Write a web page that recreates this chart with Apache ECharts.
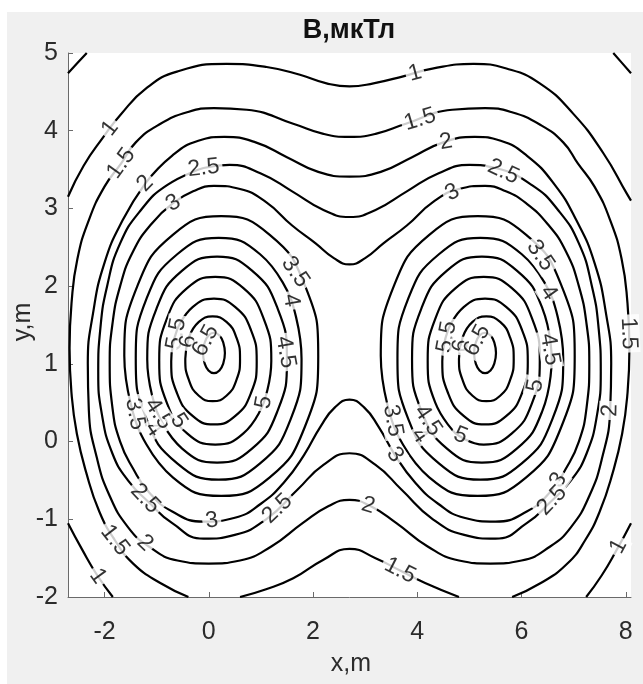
<!DOCTYPE html>
<html><head><meta charset="utf-8">
<script src="https://cdn.jsdelivr.net/npm/echarts@6/dist/echarts.min.js"></script>
<style>
html,body{margin:0;padding:0;background:#fff;overflow:hidden;}
#bg{position:absolute;left:7px;top:12px;width:636px;height:672px;background:#f0f0f0;}
#c{position:absolute;left:0;top:0;width:643px;height:684px;}
</style></head><body><div id="bg"></div><div id="c"></div>
<script>
// ---- tick labels ----
const xTicks = [-2, 0, 2, 4, 6, 8];
const yTicks = [-2, -1, 0, 1, 2, 3, 4, 5];
const titleText = 'B,мкТл';
const xName = 'x,m';
const yName = 'y,m';

// ---- contour lines (data units: x,m / y,m) ----
const lev05a = [[-2.7,4.74],[-2.52,4.87],[-2.34,5.0]];
const lev05b = [[7.76,5.0],[7.93,4.87],[8.1,4.74]];
const lev1Top = [[-2.7,3.15],[-2.4,3.55],[-2.02,3.92],[-1.7,4.2],[-1.19,4.55],[-0.61,4.76],[0.34,4.86],[1.11,4.82],[1.75,4.72],[2.26,4.61],[2.7,4.57],[3.16,4.61],[3.73,4.70],[4.29,4.80],[5.08,4.86],[5.71,4.80],[6.35,4.61],[6.99,4.22],[7.57,3.71],[8.02,3.19],[8.1,3.1]];
const lev1BL = [[-2.7,-1.05],[-2.42,-1.4],[-2.14,-1.72],[-1.84,-2.0]];
const lev1BR = [[8.1,-1.05],[7.82,-1.4],[7.54,-1.72],[7.24,-2.0]];
const lev15Main = [[-0.39,-2.0],[-0.93,-1.82],[-1.45,-1.57],[-1.80,-1.27],[-2.1,-0.9],[-2.35,-0.4],[-2.53,0.1],[-2.63,0.6],[-2.67,1.2],[-2.63,1.8],[-2.52,2.35],[-2.3,2.85],[-2.0,3.28],[-1.68,3.58],[-1.4,3.85],[-0.95,4.08],[-0.4,4.24],[0.1,4.29],[0.73,4.27],[1.62,4.09],[2.2,3.96],[2.7,3.92],[3.2,3.96],[3.78,4.09],[4.67,4.27],[5.3,4.29],[5.8,4.24],[6.35,4.08],[6.8,3.85],[7.08,3.58],[7.4,3.28],[7.7,2.85],[7.92,2.35],[8.03,1.8],[8.07,1.2],[8.03,0.6],[7.93,0.1],[7.75,-0.4],[7.5,-0.9],[7.22,-1.27],[6.88,-1.57],[6.37,-1.82],[5.82,-2.0]];
const lev15Bot = [[0.6,-2.0],[1.1,-1.9],[1.62,-1.76],[2.2,-1.52],[2.7,-1.38],[3.2,-1.5],[3.67,-1.66],[4.15,-1.82],[4.8,-2.0]];
const lev2 = [[-1.22,3.32],[-0.7,3.68],[-0.2,3.87],[0.3,3.92],[0.9,3.85],[1.5,3.66],[2.1,3.47],[2.7,3.41],[3.3,3.47],[3.9,3.66],[4.5,3.85],[5.1,3.92],[5.6,3.87],[6.1,3.68],[6.62,3.32],[7.05,2.85],[7.4,2.3],[7.62,1.65],[7.72,1.0],[7.7,0.4],[7.55,-0.2],[7.3,-0.7],[6.95,-1.1],[6.55,-1.35],[6.0,-1.53],[5.4,-1.57],[4.8,-1.53],[4.2,-1.35],[3.6,-1.05],[3.1,-0.83],[2.7,-0.75],[2.3,-0.83],[1.8,-1.05],[1.2,-1.35],[0.6,-1.53],[0.0,-1.57],[-0.6,-1.53],[-1.15,-1.35],[-1.55,-1.1],[-1.9,-0.7],[-2.15,-0.2],[-2.3,0.4],[-2.32,1.0],[-2.22,1.65],[-2.0,2.3],[-1.65,2.85]];
const lev25 = [[-0.1,3.52],[0.4,3.56],[1.0,3.45],[1.6,3.22],[2.2,2.98],[2.7,2.89],[3.2,2.98],[3.8,3.22],[4.4,3.45],[5.0,3.56],[5.5,3.52],[6.2,3.3],[6.7,2.98],[7.1,2.55],[7.35,2.0],[7.48,1.45],[7.52,0.9],[7.45,0.35],[7.25,-0.15],[6.95,-0.5],[6.55,-0.78],[6.1,-1.05],[5.5,-1.25],[4.9,-1.2],[4.3,-1.0],[3.7,-0.62],[3.2,-0.3],[2.7,-0.15],[2.2,-0.3],[1.7,-0.62],[1.1,-1.0],[0.5,-1.2],[-0.1,-1.25],[-0.7,-1.05],[-1.15,-0.78],[-1.55,-0.5],[-1.85,-0.15],[-2.05,0.35],[-2.12,0.9],[-2.08,1.45],[-1.95,2.0],[-1.7,2.55],[-1.3,2.98],[-0.8,3.3]];
const lev3 = [[-0.68,3.07],[-0.3,3.22],[0.1,3.29],[0.6,3.25],[1.1,3.08],[1.6,2.78],[2.05,2.55],[2.4,2.36],[2.7,2.28],[3.0,2.36],[3.35,2.55],[3.8,2.78],[4.3,3.08],[4.8,3.25],[5.3,3.29],[5.7,3.22],[6.08,3.07],[6.5,2.8],[6.85,2.45],[7.1,2.0],[7.25,1.5],[7.3,1.0],[7.25,0.45],[7.1,0.0],[6.85,-0.35],[6.55,-0.65],[6.1,-0.9],[5.5,-1.03],[4.9,-0.98],[4.4,-0.8],[3.95,-0.52],[3.57,-0.17],[3.25,0.2],[2.98,0.44],[2.7,0.54],[2.42,0.44],[2.15,0.2],[1.83,-0.17],[1.45,-0.52],[1.0,-0.8],[0.5,-0.98],[-0.1,-1.03],[-0.7,-0.9],[-1.15,-0.65],[-1.45,-0.35],[-1.7,0.0],[-1.85,0.45],[-1.9,1.0],[-1.85,1.5],[-1.7,2.0],[-1.45,2.45],[-1.1,2.8]];
const l35L = [[2.10,1.10],[1.85,2.00],[1.17,2.66],[0.24,2.90],[-0.69,2.66],[-1.37,2.00],[-1.62,1.10],[-1.37,0.20],[-0.69,-0.46],[0.24,-0.70],[1.17,-0.46],[1.85,0.20]];
const l35R = [[3.30,1.10],[3.55,2.00],[4.23,2.66],[5.16,2.90],[6.09,2.66],[6.77,2.00],[7.02,1.10],[6.77,0.20],[6.09,-0.46],[5.16,-0.70],[4.23,-0.46],[3.55,0.20]];
const l4L = [[1.78,1.065],[1.57,1.845],[0.985,2.41],[0.19,2.62],[-0.605,2.41],[-1.19,1.845],[-1.40,1.065],[-1.19,0.285],[-0.605,-0.28],[0.19,-0.49],[0.985,-0.28],[1.57,0.285]];
const l4R = [[3.62,1.065],[3.83,1.845],[4.415,2.41],[5.21,2.62],[6.005,2.41],[6.59,1.845],[6.80,1.065],[6.59,0.285],[6.005,-0.28],[5.21,-0.49],[4.415,-0.28],[3.83,0.285]];
const l45L = [[1.50,1.055],[1.32,1.715],[0.83,2.20],[0.16,2.38],[-0.51,2.20],[-1.0,1.715],[-1.18,1.055],[-1.0,0.395],[-0.51,-0.09],[0.16,-0.27],[0.83,-0.09],[1.32,0.395]];
const l45R = [[3.90,1.055],[4.08,1.715],[4.57,2.20],[5.24,2.38],[5.91,2.20],[6.40,1.715],[6.58,1.055],[6.40,0.395],[5.91,-0.09],[5.24,-0.27],[4.57,-0.09],[4.08,0.395]];
const l5L = [[1.20,1.04],[1.055,1.58],[0.665,1.975],[0.125,2.12],[-0.415,1.975],[-0.805,1.58],[-0.95,1.04],[-0.805,0.50],[-0.415,0.105],[0.125,-0.04],[0.665,0.105],[1.055,0.50]];
const l5R = [[4.20,1.04],[4.345,1.58],[4.735,1.975],[5.275,2.12],[5.815,1.975],[6.205,1.58],[6.35,1.04],[6.205,0.50],[5.815,0.105],[5.275,-0.04],[4.735,0.105],[4.345,0.50]];
const l55L = [[0.92,1.03],[0.81,1.435],[0.51,1.73],[0.10,1.84],[-0.31,1.73],[-0.61,1.435],[-0.72,1.03],[-0.61,0.625],[-0.31,0.33],[0.10,0.22],[0.51,0.33],[0.81,0.625]];
const l55R = [[4.48,1.03],[4.59,1.435],[4.89,1.73],[5.30,1.84],[5.71,1.73],[6.01,1.435],[6.12,1.03],[6.01,0.625],[5.71,0.33],[5.30,0.22],[4.89,0.33],[4.59,0.625]];
const l6L = [[0.60,1.065],[0.53,1.34],[0.34,1.54],[0.075,1.61],[-0.19,1.54],[-0.38,1.34],[-0.45,1.065],[-0.38,0.79],[-0.19,0.59],[0.075,0.52],[0.34,0.59],[0.53,0.79]];
const l6R = [[4.80,1.065],[4.87,1.34],[5.06,1.54],[5.325,1.61],[5.59,1.54],[5.78,1.34],[5.85,1.065],[5.78,0.79],[5.59,0.59],[5.325,0.52],[5.06,0.59],[4.87,0.79]];
const l65L = [[0.31,1.14],[0.28,1.27],[0.205,1.365],[0.10,1.40],[-0.005,1.365],[-0.08,1.27],[-0.11,1.14],[-0.08,1.01],[-0.005,0.915],[0.10,0.88],[0.205,0.915],[0.28,1.01]];
const l65R = [[5.09,1.14],[5.12,1.27],[5.195,1.365],[5.30,1.40],[5.405,1.365],[5.48,1.27],[5.51,1.14],[5.48,1.01],[5.405,0.915],[5.30,0.88],[5.195,0.915],[5.12,1.01]];

// inline contour labels: [level, x, y]
const labelAt = [
  [1,-1.89,4.03],[1.5,-1.68,3.58],[2,-1.22,3.32],[2.5,-0.10,3.52],[3,-0.68,3.07],
  [1,3.96,4.73],[1.5,4.05,4.15],[2,4.56,3.82],[2.5,5.65,3.47],[3,4.66,3.22],
  [3.5,1.72,2.21],[4,1.62,1.82],[4.5,1.47,1.15],[5,1.02,0.51],[5.5,-0.65,1.39],[6,-0.42,1.29],[6.5,0.02,1.27],
  [3.5,-1.45,0.35],[4,-1.15,0.12],[4.5,-0.98,0.35],[5,-0.68,0.22],
  [3.5,6.42,2.42],[4,6.51,1.91],[4.5,6.49,1.18],[5,6.27,0.72],[5.5,4.53,1.35],[6,4.76,1.24],[6.5,5.24,1.27],
  [3.5,3.61,0.28],[4,4.12,0.11],[4.5,4.27,0.30],[5,4.82,0.06],
  [3,0.06,-1.03],[2.5,-1.32,-0.80],[2.5,1.34,-0.88],[2,-1.22,-1.30],[1.5,-1.80,-1.27],[1,-2.14,-1.74],
  [3,3.57,-0.17],[2,3.06,-0.82],[1.5,3.67,-1.66],[3,6.60,-0.45],[2.5,6.54,-0.73],[2,7.70,0.40],[1.5,8.05,1.39],[1,7.89,-1.36]
];

const contours = [
  {v:0.5, pts:lev05a}, {v:0.5, pts:lev05b},
  {v:1, pts:lev1Top}, {v:1, pts:lev1BL}, {v:1, pts:lev1BR},
  {v:1.5, pts:lev15Main}, {v:1.5, pts:lev15Bot},
  {v:2, pts:lev2, closed:true}, {v:2.5, pts:lev25, closed:true}, {v:3, pts:lev3, closed:true},
  {v:3.5, pts:l35L, closed:true}, {v:3.5, pts:l35R, closed:true},
  {v:4, pts:l4L, closed:true}, {v:4, pts:l4R, closed:true},
  {v:4.5, pts:l45L, closed:true}, {v:4.5, pts:l45R, closed:true},
  {v:5, pts:l5L, closed:true}, {v:5, pts:l5R, closed:true},
  {v:5.5, pts:l55L, closed:true}, {v:5.5, pts:l55R, closed:true},
  {v:6, pts:l6L, closed:true}, {v:6, pts:l6R, closed:true},
  {v:6.5, pts:l65L, closed:true}, {v:6.5, pts:l65R, closed:true}
];

const FONT = "'Liberation Sans', Arial, Helvetica, sans-serif";
const chart = echarts.init(document.getElementById('c'), null, {renderer: 'canvas'});

const base = {
  animation: false,
  backgroundColor: 'transparent',
  grid: {left: 68, top: 53, width: 563, height: 544, show: true, backgroundColor: '#ffffff', borderWidth: 0},
  xAxis: {
    type: 'value', min: -2.7, max: 8.1,
    axisLine: {show: true, onZero: false, lineStyle: {color: '#6a6a6a', width: 1}},
    axisTick: {show: true, inside: true, length: 5, customValues: xTicks, lineStyle: {color: '#6a6a6a'}},
    axisLabel: {customValues: xTicks, fontSize: 25, color: '#2b2b2b', margin: 23, fontFamily: FONT},
    splitLine: {show: false}
  },
  yAxis: {
    type: 'value', min: -2, max: 5, interval: 1,
    axisLine: {show: true, onZero: false, lineStyle: {color: '#6a6a6a', width: 1}},
    axisTick: {show: true, inside: true, length: 5, lineStyle: {color: '#6a6a6a'}},
    axisLabel: {fontSize: 25, color: '#2b2b2b', margin: 10, fontFamily: FONT},
    splitLine: {show: false}
  },
  graphic: [
    {type: 'text', x: 349, y: 31, style: {text: titleText, font: 'bold 27px ' + FONT, fill: '#111', textAlign: 'center', textVerticalAlign: 'middle'}},
    {type: 'text', x: 351, y: 664, style: {text: xName, font: '25px ' + FONT, fill: '#2b2b2b', textAlign: 'center', textVerticalAlign: 'middle'}},
    {type: 'text', x: 23, y: 322, rotation: Math.PI / 2, style: {text: yName, font: '25px ' + FONT, fill: '#2b2b2b', textAlign: 'center', textVerticalAlign: 'middle'}}
  ],
  series: []
};
chart.setOption(base);

const toPx = p => chart.convertToPixel({gridIndex: 0}, p);
const fromPx = p => chart.convertFromPixel({gridIndex: 0}, p);

// start closed loops at the vertex nearest to one of their labels (seam hidden by the label)
contours.forEach(c => {
  let pts = c.pts;
  if (c.closed) {
    const px = pts.map(toPx);
    let best = null;
    labelAt.forEach(l => {
      if (l[0] !== c.v) return;
      const q = toPx([l[1], l[2]]);
      px.forEach((p, i) => {
        const d = (p[0]-q[0])**2 + (p[1]-q[1])**2;
        if (!best || d < best.d) best = {d, i};
      });
    });
    if (best && best.d < 45*45) pts = pts.slice(best.i).concat(pts.slice(0, best.i));
    pts = pts.concat([pts[0]]);
  }
  c.draw = pts;
  c.px = pts.map(toPx);
});

// snap labels onto their contour and orient them along it
const labelData = labelAt.map(l => {
  const q = toPx([l[1], l[2]]);
  let best = null;
  contours.forEach(c => {
    if (c.v !== l[0]) return;
    for (let i = 0; i < c.px.length - 1; i++) {
      const a = c.px[i], b = c.px[i+1];
      const dx = b[0]-a[0], dy = b[1]-a[1];
      const L2 = dx*dx + dy*dy || 1;
      let t = ((q[0]-a[0])*dx + (q[1]-a[1])*dy) / L2;
      t = Math.max(0, Math.min(1, t));
      const p = [a[0]+t*dx, a[1]+t*dy];
      const d = (p[0]-q[0])**2 + (p[1]-q[1])**2;
      if (!best || d < best.d) best = {d, p, dx, dy};
    }
  });
  let ang = Math.atan2(-best.dy, best.dx) * 180 / Math.PI;
  if (ang > 90) ang -= 180;
  if (ang <= -90) ang += 180;
  return {value: fromPx(best.p), txt: String(l[0]), label: {rotate: ang}};
});

const series = contours.map(c => ({
  type: 'line', data: c.draw, smooth: 0.5, symbol: 'none', silent: true,
  lineStyle: {color: '#000', width: 2.2}, z: 2
}));
series.push({
  type: 'scatter', data: labelData, symbol: 'circle', symbolSize: 1, silent: true, z: 5,
  itemStyle: {color: 'rgba(0,0,0,0)'},
  label: {show: true, position: 'inside', formatter: p => p.data.txt, fontSize: 23, lineHeight: 22,
          fontFamily: FONT, color: '#000', backgroundColor: '#ffffff', padding: [0, 3]}
});
chart.setOption({series: series});
</script>
</body></html>
